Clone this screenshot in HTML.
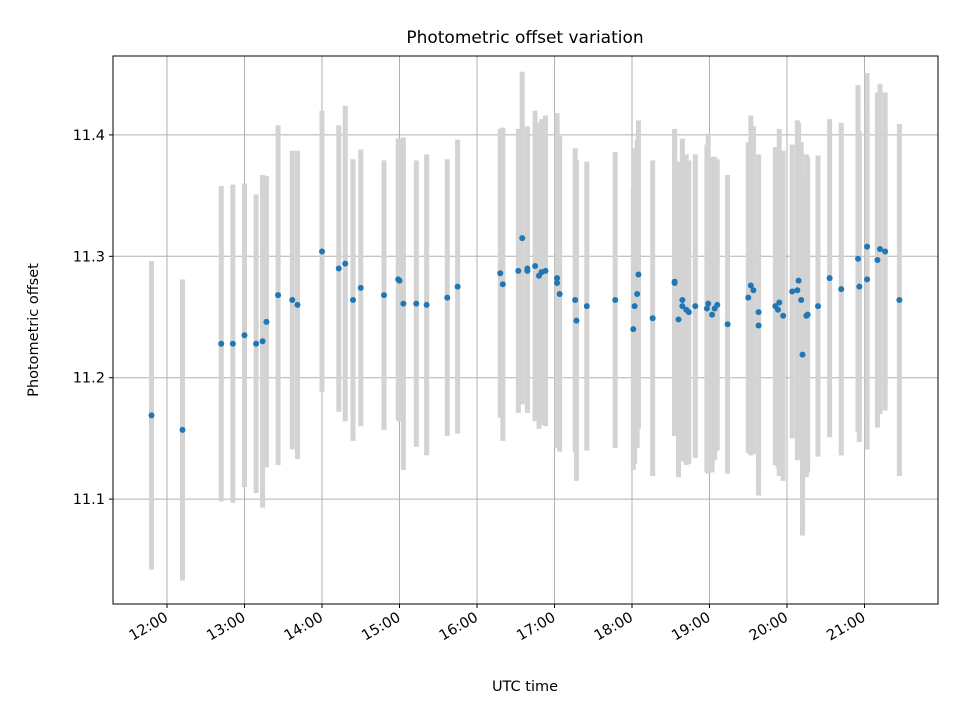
<!DOCTYPE html>
<html><head><meta charset="utf-8"><style>
html,body{margin:0;padding:0;background:#fff;}
svg text{font-family:"DejaVu Sans","Liberation Sans",sans-serif;fill:#000;}
</style></head><body>
<svg id="chart" width="960" height="720" viewBox="0 0 960 720" xmlns="http://www.w3.org/2000/svg">
<rect width="960" height="720" fill="#fff"/>
<text x="525" y="43" font-size="17" text-anchor="middle">Photometric offset variation</text>
<g id="grid"></g><g id="bars"></g><g id="pts"></g><g id="axes"></g>
<text x="525" y="691" font-size="14.5" text-anchor="middle">UTC time</text>
<text transform="translate(38,330) rotate(-90)" font-size="14.5" text-anchor="middle">Photometric offset</text>
</svg>
<script>
const times=["11:48","12:12","12:42","12:51","13:00","13:09","13:14","13:17","13:26","13:37","13:41","14:00","14:13","14:18","14:24","14:30","14:48","14:59","15:00","15:03","15:13","15:21","15:37","15:45","16:18","16:20","16:32","16:35","16:39","16:39","16:45","16:48","16:50","16:53","17:02","17:02","17:04","17:16","17:17","17:25","17:47","18:01","18:02","18:04","18:05","18:16","18:33","18:33","18:36","18:39","18:39","18:42","18:44","18:49","18:58","18:59","19:02","19:04","19:06","19:14","19:30","19:32","19:34","19:38","19:38","19:51","19:53","19:54","19:57","20:04","20:08","20:09","20:11","20:12","20:15","20:16","20:24","20:33","20:42","20:55","20:56","21:02","21:02","21:10","21:12","21:16","21:27"];
const offsets=[11.169,11.157,11.228,11.228,11.235,11.228,11.230,11.246,11.268,11.264,11.260,11.304,11.290,11.294,11.264,11.274,11.268,11.281,11.280,11.261,11.261,11.260,11.266,11.275,11.286,11.277,11.288,11.315,11.288,11.290,11.292,11.284,11.287,11.288,11.282,11.278,11.269,11.264,11.247,11.259,11.264,11.240,11.259,11.269,11.285,11.249,11.279,11.278,11.248,11.264,11.259,11.256,11.254,11.259,11.257,11.261,11.252,11.257,11.260,11.244,11.266,11.276,11.272,11.254,11.243,11.259,11.256,11.262,11.251,11.271,11.272,11.280,11.264,11.219,11.251,11.252,11.259,11.282,11.273,11.298,11.275,11.308,11.281,11.297,11.306,11.304,11.264];
const errors=[0.127,0.124,0.130,0.131,0.125,0.123,0.137,0.120,0.140,0.123,0.127,0.116,0.118,0.130,0.116,0.114,0.111,0.116,0.116,0.137,0.118,0.124,0.114,0.121,0.119,0.129,0.117,0.137,0.117,0.117,0.128,0.126,0.126,0.128,0.136,0.136,0.130,0.125,0.132,0.119,0.122,0.116,0.130,0.127,0.127,0.130,0.126,0.126,0.130,0.133,0.125,0.128,0.125,0.125,0.135,0.140,0.130,0.125,0.120,0.123,0.128,0.140,0.135,0.130,0.140,0.131,0.130,0.143,0.136,0.121,0.140,0.130,0.130,0.149,0.133,0.130,0.124,0.131,0.137,0.143,0.128,0.143,0.140,0.138,0.136,0.131,0.145];
const xTickLabels=["12:00","13:00","14:00","15:00","16:00","17:00","18:00","19:00","20:00","21:00"];
const yTickLabels=["11.1","11.2","11.3","11.4"];
const L=113,R=938,T=56,B=604;
const xMin=-41.8,xMax=596.9,yMin=11.0136,yMax=11.465;
function toMin(s){const p=s.split(":");return (+p[0]-12)*60+(+p[1]);}
function xs(m){return L+(m-xMin)/(xMax-xMin)*(R-L);}
function ys(v){return B-(v-yMin)/(yMax-yMin)*(B-T);}
const NS="http://www.w3.org/2000/svg";
function mk(tag,attrs,parent){const e=document.createElementNS(NS,tag);for(const k in attrs)e.setAttribute(k,attrs[k]);parent.appendChild(e);return e;}
const grid=document.getElementById('grid'),bars=document.getElementById('bars'),pts=document.getElementById('pts'),axes=document.getElementById('axes');
xTickLabels.forEach(lab=>{const x=xs(toMin(lab));
 const g=mk('line',{x1:x,x2:x,y1:T,y2:B,stroke:'#b0b0b0','stroke-width':1},grid);
 
 
 mk('line',{x1:x,x2:x,y1:B,y2:B+4,stroke:'#000','stroke-width':1},axes);
 const t=mk('text',{x:x+2,y:B+16,'font-size':14.5,'text-anchor':'end',transform:`rotate(-30 ${x+2} ${B+16})`},axes);
 t.textContent=lab;
 
 
});
yTickLabels.forEach(lab=>{const y=ys(+lab);
 const g=mk('line',{x1:L,x2:R,y1:y,y2:y,stroke:'#b0b0b0','stroke-width':1},grid);
 
 
 mk('line',{x1:L-4,x2:L,y1:y,y2:y,stroke:'#000','stroke-width':1},axes);
 const t=mk('text',{x:L-8,y:y+5,'font-size':14.5,'text-anchor':'end'},axes);
 t.textContent=lab;
 
 
});
times.forEach((tm,i)=>{const x=xs(toMin(tm));
 const b=mk('line',{x1:x,x2:x,y1:ys(offsets[i]+errors[i]),y2:ys(offsets[i]-errors[i]),stroke:'#d3d3d3','stroke-width':5},bars);
 
 
 const c=mk('circle',{cx:x,cy:ys(offsets[i]),r:3,fill:'#1f77b4'},pts);
 
 
});
const f=mk('rect',{x:L,y:T,width:R-L,height:B-T,fill:'none',stroke:'#000','stroke-width':1},axes);


</script>
</body></html>
